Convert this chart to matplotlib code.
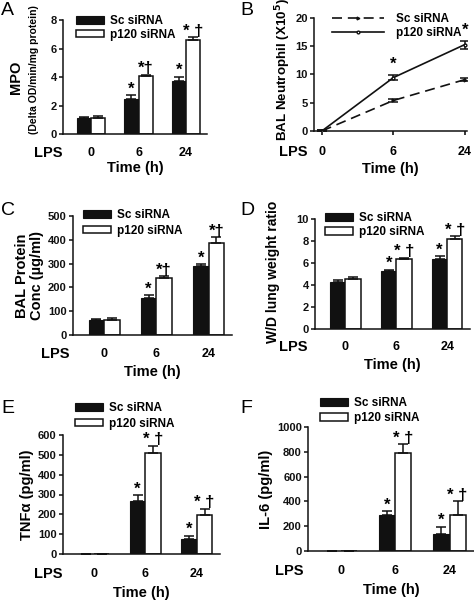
import matplotlib
matplotlib.use("Agg")
import matplotlib.pyplot as plt
from matplotlib.transforms import blended_transform_factory
from matplotlib.lines import Line2D
from matplotlib.patches import Patch
import numpy as np

plt.rcParams['font.family'] = ['Liberation Sans', 'DejaVu Sans']
plt.rcParams['font.weight'] = 'bold'

times = ['0', '6', '24']
series = ['Sc siRNA', 'p120 siRNA']

# A: MPO
mpo_sc = [1.1, 2.45, 3.75]
mpo_sc_err = [0.07, 0.27, 0.28]
mpo_p120 = [1.15, 4.07, 6.63]
mpo_p120_err = [0.08, 0.1, 0.15]
mpo_marks_sc = ['', '*', '*']
mpo_marks_p120 = ['', '*†', '* †']

# B: BAL neutrophil
neu_sc = [0.0, 5.4, 9.1]
neu_sc_err = [0.1, 0.3, 0.2]
neu_p120 = [0.0, 9.45, 15.3]
neu_p120_err = [0.1, 0.5, 0.7]
neu_marks = ['', '*', '*']

# C: BAL protein
prot_sc = [62, 157, 290]
prot_sc_err = [5, 9, 8]
prot_p120 = [65, 238, 388]
prot_p120_err = [5, 9, 22]
prot_marks_sc = ['', '*', '*']
prot_marks_p120 = ['', '*†', '*†']

# D: W/D ratio
wd_sc = [4.3, 5.3, 6.4]
wd_sc_err = [0.12, 0.1, 0.2]
wd_p120 = [4.55, 6.4, 8.15]
wd_p120_err = [0.2, 0.1, 0.28]
wd_marks_sc = ['', '*', '*']
wd_marks_p120 = ['', '* †', '* †']

# E: TNFa
tnf_sc = [1, 268, 78]
tnf_sc_err = [0, 30, 15]
tnf_p120 = [1, 510, 195]
tnf_p120_err = [0, 35, 32]
tnf_marks_sc = ['', '*', '*']
tnf_marks_p120 = ['', '* †', '* †']

# F: IL-6
il6_sc = [3, 290, 135]
il6_sc_err = [0, 30, 60]
il6_p120 = [3, 790, 290]
il6_p120_err = [0, 70, 110]
il6_marks_sc = ['', '*', '*']
il6_marks_p120 = ['', '* †', '* †']

W, H = 474, 600
fig = plt.figure(figsize=(W / 100, H / 100), dpi=100)
INK = '#111111'
STAR_FS = 12


def add_ax(x0, y0, x1, y1):
    return fig.add_axes([x0 / W, 1 - y1 / H, (x1 - x0) / W, (y1 - y0) / H])


def px2fig(x, y):
    return x / W, 1 - y / H


def style_axis(ax, ymax, ystep):
    for s in ['top', 'right']:
        ax.spines[s].set_visible(False)
    for s in ['left', 'bottom']:
        ax.spines[s].set_linewidth(1.1)
        ax.spines[s].set_color(INK)
    ax.set_ylim(0, ymax)
    ax.set_yticks(np.arange(0, ymax + ystep / 2, ystep))
    ax.tick_params(axis='y', direction='out', length=3, width=1.1, labelsize=8, pad=1.5, colors=INK)
    ax.set_xticks(range(len(times)))
    ax.set_xticklabels([])
    ax.tick_params(axis='x', length=0)
    for lbl in ax.get_yticklabels():
        lbl.set_fontweight('bold')


def lps_time(ax, lps_x_px, time_dy=34, lab_dy=19, time_fs=10.5):
    bb = ax.get_position()
    axh_px = bb.height * H
    tr = blended_transform_factory(fig.transFigure, ax.transAxes)
    trd = blended_transform_factory(ax.transData, ax.transAxes)
    for i, t in enumerate(times):
        ax.text(i, -lab_dy / axh_px, t, transform=trd, ha='center', va='center',
                fontsize=9, fontweight='bold')
    ax.text(lps_x_px / W, -lab_dy / axh_px, 'LPS', transform=tr, ha='right', va='center',
            fontsize=10.5, fontweight='bold')
    ax.text(0.5, -time_dy / axh_px, 'Time (h)', transform=ax.transAxes, ha='center', va='center',
            fontsize=time_fs, fontweight='bold')


def bar_panel(ax, sc, sce, p1, p1e, msc, mp1, ymax, ystep, xlim=(-0.6, 2.45), bw=0.3):
    x = np.arange(len(times))
    ax.bar(x - bw / 2, sc, bw, color=INK, edgecolor=INK, linewidth=0.8,
           yerr=[np.zeros(3), sce], error_kw=dict(ecolor=INK, elinewidth=1.1, capsize=3.5, capthick=1.1))
    ax.bar(x + bw / 2, p1, bw, color='white', edgecolor=INK, linewidth=1.1,
           yerr=[np.zeros(3), p1e], error_kw=dict(ecolor=INK, elinewidth=1.1, capsize=3.5, capthick=1.1))
    ax.set_xlim(*xlim)
    style_axis(ax, ymax, ystep)
    for i in range(3):
        if msc[i]:
            ax.annotate(msc[i], (x[i] - bw / 2, sc[i] + sce[i]), xytext=(0, -1),
                        textcoords='offset points', ha='center', va='bottom',
                        fontsize=STAR_FS, fontweight='bold')
        if mp1[i]:
            ax.annotate(mp1[i], (x[i] + bw / 2, p1[i] + p1e[i]), xytext=(0, -1),
                        textcoords='offset points', ha='center', va='bottom',
                        fontsize=STAR_FS, fontweight='bold')


def bar_legend(ax, anchor_px, spacing=0.15):
    handles = [Patch(facecolor=INK, edgecolor=INK, linewidth=0.8),
               Patch(facecolor='white', edgecolor=INK, linewidth=1.1)]
    ax.legend(handles, series, loc='upper left', bbox_to_anchor=px2fig(*anchor_px),
              bbox_transform=fig.transFigure, frameon=False, borderpad=0, borderaxespad=0,
              handlelength=2.4, handleheight=0.6, handletextpad=0.5, labelspacing=spacing,
              prop=dict(size=8.5, weight='bold'))


def panel_letter(x, y, s):
    fig.text(x / W, 1 - y / H, s, fontsize=14, fontweight='normal', ha='left', va='top')


def vlabel(x_px, yc_px, s, fs):
    fig.text(x_px / W, 1 - yc_px / H, s, rotation=90, ha='center', va='center',
             fontsize=fs, fontweight='bold')


# ---------- A ----------
axA = add_ax(63, 20, 207, 134)
bar_panel(axA, mpo_sc, mpo_sc_err, mpo_p120, mpo_p120_err, mpo_marks_sc, mpo_marks_p120, 8, 2)
lps_time(axA, 62)
vlabel(16, 77, 'MPO', 10.5)
vlabel(34, 70, '(Delta OD/min/mg protein)', 7.5)
bar_legend(axA, (76, 15))
panel_letter(1, 2, 'A')

# ---------- B ----------
axB = add_ax(314, 18, 467, 131)
xb = np.arange(3)
axB.errorbar(xb, neu_sc, yerr=neu_sc_err, color=INK, lw=1.2, ls=(0, (6, 3.5)),
             capsize=3.5, elinewidth=1.1, capthick=1.1, marker='>', ms=2)
axB.errorbar(xb, neu_p120, yerr=neu_p120_err, color=INK, lw=1.2, ls='-',
             capsize=3.5, elinewidth=1.1, capthick=1.1, marker='o', ms=2, mfc='white')
for i in range(3):
    if neu_marks[i]:
        axB.annotate(neu_marks[i], (xb[i], neu_p120[i] + neu_p120_err[i]), xytext=(0, 2),
                     textcoords='offset points', ha='center', va='bottom',
                     fontsize=STAR_FS, fontweight='bold')
axB.set_xlim(-0.11, 2.03)
style_axis(axB, 20, 5)
axB.tick_params(axis='x', direction='out', length=3, width=1.1)
lps_time(axB, 307, time_dy=38, lab_dy=21)
vlabel(283, 70, 'BAL Neutrophil (X10$^{\\mathbf{5}}$)', 9.6)
axB.legend([Line2D([], [], color=INK, lw=1.2, ls=(0, (6, 3.5)), marker='>', ms=2),
            Line2D([], [], color=INK, lw=1.2, marker='o', ms=2, mfc='white')],
           series, loc='upper left', bbox_to_anchor=px2fig(332, 13), bbox_transform=fig.transFigure,
           frameon=False, borderpad=0, borderaxespad=0, handlelength=4.4, handletextpad=1.0,
           labelspacing=0.2, prop=dict(size=8.5, weight='bold'))
panel_letter(240, 2, 'B')

# ---------- C ----------
axC = add_ax(73, 216, 232, 335)
bar_panel(axC, prot_sc, prot_sc_err, prot_p120, prot_p120_err, prot_marks_sc, prot_marks_p120, 500, 100)
lps_time(axC, 70, time_dy=37, lab_dy=19)
axC.set_ylabel('BAL Protein\nConc (µg/ml)', fontsize=10.5, fontweight='bold', labelpad=3, linespacing=1.05)
bar_legend(axC, (83, 209), spacing=0.3)
panel_letter(1, 202, 'C')

# ---------- D ----------
axD = add_ax(315, 219, 470, 329)
bar_panel(axD, wd_sc, wd_sc_err, wd_p120, wd_p120_err, wd_marks_sc, wd_marks_p120, 10, 2)
lps_time(axD, 308, time_dy=36, lab_dy=18)
vlabel(273, 272, 'W/D lung weight ratio', 10)
bar_legend(axD, (325, 212), spacing=0.2)
panel_letter(240, 202, 'D')

# ---------- E ----------
axE = add_ax(63, 435, 220, 554)
bar_panel(axE, tnf_sc, tnf_sc_err, tnf_p120, tnf_p120_err, tnf_marks_sc, tnf_marks_p120, 600, 100)
lps_time(axE, 62, time_dy=39, lab_dy=20)
axE.set_ylabel('TNFα (pg/ml)', fontsize=10.5, fontweight='bold', labelpad=3)
bar_legend(axE, (75, 402), spacing=0.3)
panel_letter(1, 400, 'E')

# ---------- F ----------
axF = add_ax(308, 427, 474, 551)
bar_panel(axF, il6_sc, il6_sc_err, il6_p120, il6_p120_err, il6_marks_sc, il6_marks_p120, 1000, 200)
lps_time(axF, 303, time_dy=39, lab_dy=20)
axF.set_ylabel('IL-6 (pg/ml)', fontsize=10.5, fontweight='bold', labelpad=3)
bar_legend(axF, (320, 397), spacing=0.25)
panel_letter(240, 400, 'F')

fig.savefig('out.png', dpi=100)
